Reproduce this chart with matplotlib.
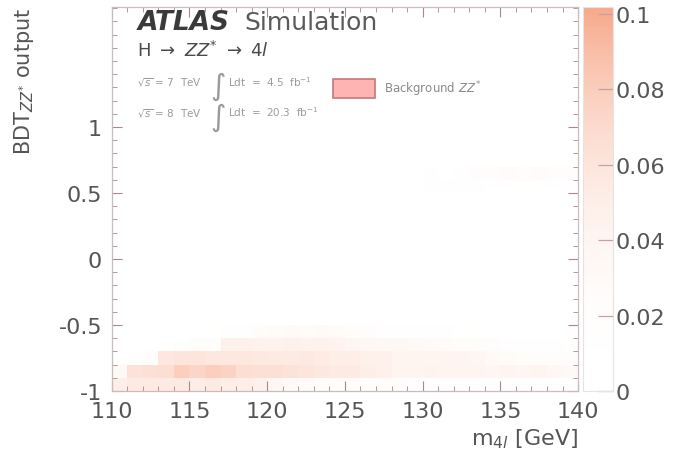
import numpy as np
import matplotlib
matplotlib.use("Agg")
import matplotlib.pyplot as plt
from matplotlib.colors import LinearSegmentedColormap
from matplotlib.patches import Patch
from matplotlib.ticker import MultipleLocator

plt.rcParams['font.family'] = ['DejaVu Sans']
plt.rcParams['mathtext.fontset'] = 'dejavusans'

# Binning: m4l in 1 GeV bins, BDT output in 0.1 bins
mass_edges = [110 + i for i in range(31)]
bdt_edges = [round(-1.0 + 0.1 * j, 1) for j in range(21)]

# Normalised ZZ* background density per (m4l, BDT) bin, one list per BDT row
bdt_m100_m090 = [0.050, 0.055, 0.055, 0.055, 0.055, 0.052, 0.055, 0.050, 0.050, 0.048,
                 0.035, 0.030, 0.028, 0.025, 0.025, 0.022, 0.020, 0.020, 0.020, 0.018,
                 0.018, 0.018, 0.015, 0.015, 0.015, 0.015, 0.015, 0.012, 0.012, 0.012]
bdt_m090_m080 = [0.032, 0.063, 0.065, 0.067, 0.079, 0.074, 0.079, 0.076, 0.067, 0.065,
                 0.065, 0.062, 0.060, 0.057, 0.055, 0.055, 0.050, 0.047, 0.042, 0.040,
                 0.043, 0.040, 0.040, 0.042, 0.038, 0.042, 0.038, 0.040, 0.036, 0.032]
bdt_m080_m070 = [0.000, 0.000, 0.020, 0.058, 0.060, 0.060, 0.058, 0.058, 0.058, 0.056,
                 0.055, 0.055, 0.056, 0.054, 0.050, 0.050, 0.048, 0.046, 0.042, 0.040,
                 0.042, 0.040, 0.040, 0.038, 0.030, 0.028, 0.025, 0.022, 0.020, 0.020]
bdt_m070_m060 = [0.000, 0.000, 0.000, 0.000, 0.015, 0.020, 0.022, 0.046, 0.047, 0.045,
                 0.044, 0.046, 0.044, 0.045, 0.043, 0.038, 0.036, 0.035, 0.035, 0.033,
                 0.030, 0.028, 0.025, 0.022, 0.020, 0.018, 0.015, 0.015, 0.012, 0.010]
bdt_m060_m050 = [0.000, 0.000, 0.000, 0.000, 0.000, 0.008, 0.010, 0.012, 0.015, 0.025,
                 0.028, 0.030, 0.028, 0.030, 0.028, 0.025, 0.022, 0.018, 0.015, 0.015,
                 0.012, 0.012, 0.010, 0.010, 0.008, 0.008, 0.006, 0.006, 0.005, 0.005]
bdt_p050_p060 = [0.000, 0.000, 0.000, 0.000, 0.000, 0.000, 0.000, 0.000, 0.000, 0.000,
                 0.000, 0.000, 0.000, 0.000, 0.000, 0.000, 0.000, 0.000, 0.000, 0.000,
                 0.012, 0.015, 0.015, 0.012, 0.000, 0.000, 0.010, 0.010, 0.000, 0.000]
bdt_p060_p070 = [0.000, 0.000, 0.000, 0.000, 0.000, 0.000, 0.000, 0.000, 0.000, 0.000,
                 0.000, 0.000, 0.000, 0.000, 0.000, 0.000, 0.000, 0.000, 0.000, 0.000,
                 0.015, 0.010, 0.012, 0.024, 0.024, 0.026, 0.024, 0.026, 0.024, 0.022]

rows = {-1.0: bdt_m100_m090, -0.9: bdt_m090_m080, -0.8: bdt_m080_m070,
        -0.7: bdt_m070_m060, -0.6: bdt_m060_m050, 0.5: bdt_p050_p060,
        0.6: bdt_p060_p070}

density = np.zeros((len(bdt_edges) - 1, len(mass_edges) - 1))
for lo, vals in rows.items():
    density[bdt_edges.index(lo)] = vals

cmap = LinearSegmentedColormap.from_list(
    "zz_bkg", ["#ffffff", "#f7a88a"], N=256, gamma=2.3)

fig = plt.figure(figsize=(6.94, 4.60), dpi=100)
ax = fig.add_axes([0.161, 0.148, 0.672, 0.835])
cax = fig.add_axes([0.840, 0.148, 0.043, 0.835])

mesh = ax.pcolormesh(mass_edges, bdt_edges, density, cmap=cmap,
                     vmin=0.0, vmax=0.1019, shading='flat')

ax.set_xlim(110, 140)
ax.set_ylim(-1.0, 1.91)
ax.set_xticks([110, 115, 120, 125, 130, 135, 140])
ax.set_yticks([-1, -0.5, 0, 0.5, 1])
ax.set_yticklabels(['-1', '-0.5', '0', '0.5', '1'])
ax.xaxis.set_minor_locator(MultipleLocator(1))
ax.yaxis.set_minor_locator(MultipleLocator(0.1))

tick_col = '#a88888'
label_col = '#555555'
ax.tick_params(which='both', direction='in', top=True, right=True,
               color=tick_col, labelcolor=label_col, labelsize=16)
ax.tick_params(which='major', length=7, pad=7)
ax.tick_params(which='minor', length=3.5)
for s in ax.spines.values():
    s.set_color('#c8bcbc')
    s.set_linewidth(0.9)

ax.set_xlabel(r'm$_{4l}$ [GeV]', loc='right', fontsize=16, color=label_col)
ax.set_ylabel(r'BDT$_{ZZ^{*}}$ output', loc='top', fontsize=15,
              color=label_col, labelpad=16)

# Experiment and process annotations
ax.text(0.056, 0.943, 'ATLAS', transform=ax.transAxes, fontsize=19,
        fontweight='bold', fontstyle='italic', color='#3a3a3a')
ax.text(0.285, 0.943, 'Simulation', transform=ax.transAxes, fontsize=18,
        color='#5a5a5a')
ax.text(0.054, 0.872, r'H $\rightarrow$ $ZZ^{*}$ $\rightarrow$ 4$l$',
        transform=ax.transAxes, fontsize=13, color='#4a4a4a')

lumi_col = '#9a9a9a'
for y_frac, energy, lumi in [(0.795, '7', '4.5'), (0.715, '8', '20.3')]:
    ax.text(0.054, y_frac, r'$\sqrt{s}$ = %s  TeV' % energy,
            transform=ax.transAxes, fontsize=7.5, color=lumi_col)
    ax.text(0.210, y_frac - 0.022, r'$\int$', transform=ax.transAxes,
            fontsize=15, color=lumi_col)
    ax.text(0.250, y_frac, r'Ldt  =  %s  fb$^{-1}$' % lumi,
            transform=ax.transAxes, fontsize=7.5, color=lumi_col)

handle = Patch(facecolor='#ffb4b4', edgecolor='#c07878', linewidth=1.2)
ax.legend([handle], [r'Background $ZZ^{*}$'], loc='center left',
          bbox_to_anchor=(0.474, 0.789), frameon=False, fontsize=8.5,
          handlelength=3.6, handleheight=2.1, handletextpad=0.7,
          borderpad=0, borderaxespad=0, labelcolor='#8a8a8a')

cbar = fig.colorbar(mesh, cax=cax, ticks=[0, 0.02, 0.04, 0.06, 0.08, 0.1])
cbar.ax.set_yticklabels(['0', '0.02', '0.04', '0.06', '0.08', '0.1'])
cbar.ax.tick_params(direction='in', length=11, width=0.9, color='#c8a0a0',
                    labelcolor=label_col, labelsize=16, pad=2)
cbar.outline.set_edgecolor('#e4e4e4')
cbar.outline.set_linewidth(0.8)

fig.savefig('out.png', dpi=100)
